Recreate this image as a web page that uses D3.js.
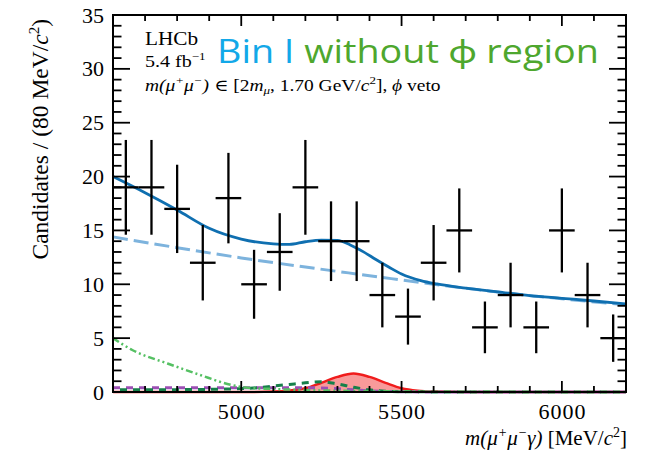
<!DOCTYPE html>
<html>
<head>
<meta charset="utf-8">
<script src="https://cdn.jsdelivr.net/npm/d3@7/dist/d3.min.js"></script>
<style>
  body { margin: 0; background: #fff; }
  svg { display: block; }
  .serif { font-family: "Liberation Serif", "DejaVu Serif", serif; }
</style>
</head>
<body>
<svg id="chart" width="654" height="453"></svg>
<script>
// bin centres (80 MeV bins) and counts
const binCentres = [4640, 4720, 4800, 4880, 4960, 5040, 5120, 5200, 5280, 5360,
                    5440, 5520, 5600, 5680, 5760, 5840, 5920, 6000, 6080, 6160];
const counts = [19, 19, 17, 12, 18, 10, 13, 19, 14, 14, 9, 7, 12, 15, 6, 9, 6, 15, 9, 5];
const countErrs = [4.4, 4.4, 4.1, 3.5, 4.2, 3.2, 3.6, 4.4, 3.7, 3.7,
                   3.0, 2.6, 3.5, 3.9, 2.4, 3.0, 2.4, 3.9, 3.0, 2.2];

// total fit (solid blue)
const totalMass = [4600, 4700, 4800, 4900, 5000, 5100, 5150, 5200, 5250, 5300, 5340, 5380,
                   5420, 5460, 5500, 5560, 5610, 5700, 5800, 5900, 6000, 6100, 6200];
const totalVals = [20.0, 18.5, 16.9, 15.2, 14.2, 13.75, 13.7, 13.95, 14.1, 14.08, 13.65, 13.03,
                   12.3, 11.6, 10.95, 10.34, 10.03, 9.65, 9.3, 8.95, 8.7, 8.45, 8.17];

// combinatorial background (light blue dashed)
const bkgMass = [4600, 4800, 5000, 5200, 5400, 5600, 5800, 6000, 6200];
const bkgVals = [14.4, 13.4, 12.45, 11.6, 10.8, 10.0, 9.28, 8.65, 8.1];

// partially reconstructed (light green dash-dot)
const partMass = [4600, 4660, 4770, 4870, 4970, 5020, 5100, 5200, 5300, 5400, 5600, 6200];
const partVals = [5.0, 3.9, 2.65, 1.6, 0.65, 0.4, 0.28, 0.18, 0.12, 0.08, 0.03, 0.0];

// signal (red filled)
const sigMass = [4600, 5000, 5100, 5150, 5200, 5250, 5300, 5350, 5400, 5450, 5500, 5550, 5600, 5700, 6200];
const sigVals = [0.0, 0.0, 0.05, 0.15, 0.35, 0.85, 1.4, 1.72, 1.4, 0.85, 0.35, 0.12, 0.04, 0.0, 0.0];

// peaking bkg (dark green dashed)
const peakMass = [4600, 4800, 4950, 5050, 5100, 5150, 5200, 5250, 5300, 5350, 5400, 5450, 5500, 5600, 6200];
const peakVals = [0.2, 0.22, 0.27, 0.4, 0.55, 0.7, 0.85, 0.95, 0.75, 0.45, 0.2, 0.08, 0.03, 0.01, 0.0];

// misid bkg (purple dashed)
const misMass = [4600, 5000, 5200, 5300, 5350, 5400, 5500, 5600, 6200];
const misVals = [0.4, 0.4, 0.4, 0.3, 0.2, 0.1, 0.03, 0.0, 0.0];

const xTicks = [5000, 5500, 6000];
const yTicks = [0, 5, 10, 15, 20, 25, 30, 35];

const svg = d3.select('#chart');
const padL = 113, padR = 626, padT = 15, padB = 392;
const stretch = 1.18; // the picture is a bit wide, texts too

const x = d3.scaleLinear().domain([4600, 6200]).range([padL, padR]);
const y = d3.scaleLinear().domain([0, 35]).range([padB, padT]);

const plot = svg.append('g');

function zip(ms, vs) { return ms.map((m, i) => [m, vs[i]]); }

const line = d3.line()
  .x(d => x(d[0]))
  .y(d => y(d[1]))
  .curve(d3.curveMonotoneX);

// signal fill
plot.append('path')
  .datum(zip(sigMass, sigVals))
  .attr('d', d3.area().x(d => x(d[0])).y0(y(0)).y1(d => y(d[1])).curve(d3.curveMonotoneX))
  .attr('fill', '#f89a9a');
plot.append('path')
  .datum(zip(sigMass, sigVals))
  .attr('d', line)
  .attr('fill', 'none')
  .attr('stroke', '#f01c1c')
  .attr('stroke-width', 2.5);

// misid
plot.append('path')
  .datum(zip(misMass, misVals))
  .attr('d', line)
  .attr('fill', 'none')
  .attr('stroke', '#9c4fb4')
  .attr('stroke-width', 3)
  .attr('stroke-dasharray', '7,6');

// peaking
plot.append('path')
  .datum(zip(peakMass, peakVals))
  .attr('d', line)
  .attr('fill', 'none')
  .attr('stroke', '#16804a')
  .attr('stroke-width', 3)
  .attr('stroke-dasharray', '7,6')
  .attr('stroke-dashoffset', 6);

// partially reco
plot.append('path')
  .datum(zip(partMass, partVals))
  .attr('d', line)
  .attr('fill', 'none')
  .attr('stroke', '#55c063')
  .attr('stroke-width', 2.5)
  .attr('stroke-dasharray', '7,3,2,3,2,3');

// combinatorial
plot.append('path')
  .datum(zip(bkgMass, bkgVals))
  .attr('d', line)
  .attr('fill', 'none')
  .attr('stroke', '#7db3dd')
  .attr('stroke-width', 3)
  .attr('stroke-dasharray', '15,6');

// total
plot.append('path')
  .datum(zip(totalMass, totalVals))
  .attr('d', line)
  .attr('fill', 'none')
  .attr('stroke', '#0f6fb0')
  .attr('stroke-width', 2.8);

// data points
const pts = plot.selectAll('g.pt')
  .data(binCentres.map((m, i) => ({m: m, n: counts[i], e: countErrs[i]})))
  .enter().append('g')
  .attr('class', 'pt')
  .attr('stroke', '#000')
  .attr('stroke-width', 2.3);
pts.append('line')
  .attr('x1', d => x(d.m - 40)).attr('x2', d => x(d.m + 40))
  .attr('y1', d => y(d.n)).attr('y2', d => y(d.n));
pts.append('line')
  .attr('x1', d => x(d.m)).attr('x2', d => x(d.m))
  .attr('y1', d => y(Math.max(0, d.n - d.e))).attr('y2', d => y(d.n + d.e));

// frame and ticks
const axes = svg.append('g').attr('stroke', '#000');
axes.append('rect')
  .attr('x', padL).attr('y', padT)
  .attr('width', padR - padL).attr('height', padB - padT)
  .attr('fill', 'none').attr('stroke-width', 2);

const xMinor = d3.range(4600, 6201, 100);
xMinor.forEach(function(v) {
  let len = v % 500 === 0 ? 11 : 6;
  axes.append('line').attr('x1', x(v)).attr('x2', x(v))
    .attr('y1', padB).attr('y2', padB - len).attr('stroke-width', 1.8);
  axes.append('line').attr('x1', x(v)).attr('x2', x(v))
    .attr('y1', padT).attr('y2', padT + len).attr('stroke-width', 1.8);
});
const yMinor = d3.range(0, 36, 1);
yMinor.forEach(function(v) {
  let len = v % 5 === 0 ? 17 : 8.5;
  axes.append('line').attr('x1', padL).attr('x2', padL + len)
    .attr('y1', y(v)).attr('y2', y(v)).attr('stroke-width', 1.8);
  axes.append('line').attr('x1', padR).attr('x2', padR - len)
    .attr('y1', y(v)).attr('y2', y(v)).attr('stroke-width', 1.8);
});

// tick labels
svg.append('g').attr('class', 'serif')
  .selectAll('text').data(xTicks).enter().append('text')
  .attr('x', d => x(d)).attr('y', 419)
  .attr('text-anchor', 'middle')
  .attr('font-size', 22)
  .attr('textLength', 47)
  .text(d => d);
svg.append('g').attr('class', 'serif')
  .selectAll('text').data(yTicks).enter().append('text')
  .attr('x', 104).attr('y', d => y(d) + 7.5)
  .attr('text-anchor', 'end')
  .attr('font-size', 22)
  .text(d => d);

// axis titles
let xt = svg.append('text').attr('class', 'serif')
  .attr('x', 627).attr('y', 445)
  .attr('text-anchor', 'end')
  .attr('font-size', 21);
xt.append('tspan').attr('font-style', 'italic').text('m(μ');
xt.append('tspan').attr('font-style', 'italic').attr('font-size', 14).attr('dy', -8).text('+');
xt.append('tspan').attr('font-style', 'italic').attr('dy', 8).text('μ');
xt.append('tspan').attr('font-style', 'italic').attr('font-size', 14).attr('dy', -8).text('−');
xt.append('tspan').attr('font-style', 'italic').attr('dy', 8).text('γ)');
xt.append('tspan').text(' [MeV/');
xt.append('tspan').attr('font-style', 'italic').text('c');
xt.append('tspan').attr('font-size', 14).attr('dy', -8).text('2');
xt.append('tspan').attr('dy', 8).text(']');

let yt = svg.append('text').attr('class', 'serif')
  .attr('transform', 'translate(48,19) rotate(-90)')
  .attr('text-anchor', 'end')
  .attr('font-size', 23.5);
yt.append('tspan').text('Candidates / (80 MeV/');
yt.append('tspan').attr('font-style', 'italic').text('c');
yt.append('tspan').attr('font-size', 15).attr('dy', -9).text('2');
yt.append('tspan').attr('dy', 9).text(')');

// labels in the pad
const lab = svg.append('g').attr('class', 'serif')
  .attr('transform', 'translate(145,0) scale(' + stretch + ',1)');
lab.append('text').attr('x', 0).attr('y', 45).attr('font-size', 18).text('LHCb');
let lumi = lab.append('text').attr('x', 0).attr('y', 67).attr('font-size', 17);
lumi.append('tspan').text('5.4 fb');
lumi.append('tspan').attr('font-size', 11).attr('dy', -7).text('−1');

let sel = lab.append('text').attr('x', 0).attr('y', 91).attr('font-size', 16.5);
sel.append('tspan').attr('font-style', 'italic').text('m(μ');
sel.append('tspan').attr('font-style', 'italic').attr('font-size', 11).attr('dy', -7).text('+');
sel.append('tspan').attr('font-style', 'italic').attr('dy', 7).text('μ');
sel.append('tspan').attr('font-style', 'italic').attr('font-size', 11).attr('dy', -7).text('−');
sel.append('tspan').attr('font-style', 'italic').attr('dy', 7).text(')');
sel.append('tspan').text(' ∈ [2');
sel.append('tspan').attr('font-style', 'italic').text('m');
sel.append('tspan').attr('font-style', 'italic').attr('font-size', 11).attr('dy', 3).text('μ');
sel.append('tspan').attr('dy', -3).text(', 1.70 GeV/');
sel.append('tspan').attr('font-style', 'italic').text('c');
sel.append('tspan').attr('font-size', 11).attr('dy', -7).text('2');
sel.append('tspan').attr('dy', 7).text('], ');
sel.append('tspan').attr('font-style', 'italic').text('ϕ');
sel.append('tspan').text(' veto');

// annotation
let title = svg.append('text')
  .attr('transform', 'translate(217,63) scale(' + stretch + ',1)')
  .attr('font-family', '"Open Sans", Lato, sans-serif')
  .attr('font-size', 32);
title.append('tspan').attr('fill', '#12a8e8').text('Bin I ');
title.append('tspan').attr('fill', '#4ea72e').text('without ϕ region');
</script>
</body>
</html>
